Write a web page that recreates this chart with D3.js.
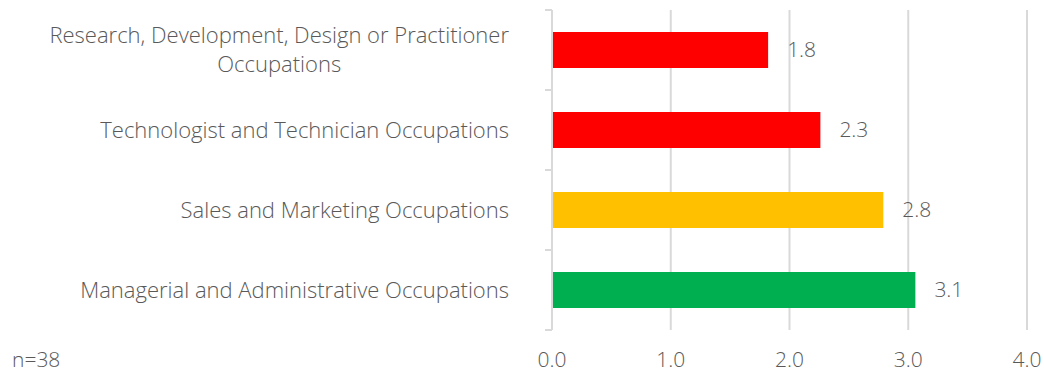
<!DOCTYPE html>
<html>
<head>
<meta charset="utf-8">
<script src="https://cdn.jsdelivr.net/npm/d3@7"></script>
<style>
  html, body { margin: 0; padding: 0; background: #ffffff; }
  svg { display: block; }
  text { font-family: "Open Sans", "Noto Sans", sans-serif; font-weight: 300; fill: #595959; }
</style>
</head>
<body>
<svg id="chart" width="1044" height="373"></svg>
<script>
// Occupation groups, top to bottom; each label split into its display lines
const categories = [
  ["Research, Development, Design or Practitioner", "Occupations"],
  ["Technologist and Technician Occupations"],
  ["Sales and Marketing Occupations"],
  ["Managerial and Administrative Occupations"]
];
const values = [1.82, 2.26, 2.79, 3.06];
const barColors = ["#ff0000", "#ff0000", "#ffc000", "#00b050"];
const xTicks = [0, 1, 2, 3, 4];
const note = "n=38";

const svg = d3.select("#chart");
const plot = { left: 552, right: 1027, top: 10, bottom: 330 };

const x = d3.scaleLinear().domain([0, 4]).range([plot.left, plot.right]);
const y = d3.scaleBand()
  .domain(d3.range(categories.length))
  .range([plot.top, plot.bottom])
  .paddingInner(0.55)
  .paddingOuter(0.275);

// vertical gridlines
svg.append("g")
  .selectAll("line")
  .data(xTicks.slice(1))
  .join("line")
  .attr("x1", d => x(d)).attr("x2", d => x(d))
  .attr("y1", plot.top).attr("y2", plot.bottom)
  .attr("stroke", "#d9d9d9").attr("stroke-width", 2);

// bars
svg.append("g")
  .selectAll("rect")
  .data(values)
  .join("rect")
  .attr("x", x(0) + 1)
  .attr("y", (d, i) => y(i))
  .attr("width", d => x(d) - x(0) - 1)
  .attr("height", y.bandwidth())
  .attr("fill", (d, i) => barColors[i]);

// value labels
svg.append("g")
  .selectAll("text")
  .data(values)
  .join("text")
  .attr("x", d => x(d) + 19)
  .attr("y", (d, i) => y(i) + y.bandwidth() / 2)
  .attr("dy", "0.35em")
  .attr("font-size", 21)
  .text(d => d.toFixed(1));

// category axis: line with outward ticks at band boundaries
const bandEdges = d3.range(categories.length + 1).map(i => plot.top + i * (plot.bottom - plot.top) / categories.length);
const yAxis = svg.append("g").attr("stroke", "#d9d9d9").attr("stroke-width", 2);
yAxis.append("line")
  .attr("x1", plot.left).attr("x2", plot.left)
  .attr("y1", plot.top).attr("y2", plot.bottom);
yAxis.selectAll("line.tick")
  .data(bandEdges)
  .join("line")
  .attr("class", "tick")
  .attr("x1", plot.left - 7).attr("x2", plot.left)
  .attr("y1", d => d).attr("y2", d => d);

// category labels (multi-line labels centred on each other, block right-aligned)
const lineH = 29;
const labelRight = 509;
categories.forEach((lines, i) => {
  const cy = y(i) + y.bandwidth() / 2;
  const g = svg.append("g");
  const texts = lines.map((ln, j) => g.append("text")
    .attr("font-size", 22)
    .attr("y", cy + (j - (lines.length - 1) / 2) * lineH)
    .attr("dy", "0.35em")
    .text(ln));
  const widths = texts.map(t => t.node().getComputedTextLength());
  const maxW = d3.max(widths);
  texts.forEach((t, j) => {
    t.attr("x", labelRight - maxW + (maxW - widths[j]) / 2);
  });
});

// value axis tick labels
svg.append("g")
  .selectAll("text")
  .data(xTicks)
  .join("text")
  .attr("x", d => x(d))
  .attr("y", 360)
  .attr("dy", "0.35em")
  .attr("text-anchor", "middle")
  .attr("font-size", 21)
  .text(d => d.toFixed(1));

// sample size note
svg.append("text")
  .attr("x", 12).attr("y", 360).attr("dy", "0.35em")
  .attr("font-size", 21)
  .text(note);
</script>
</body>
</html>
